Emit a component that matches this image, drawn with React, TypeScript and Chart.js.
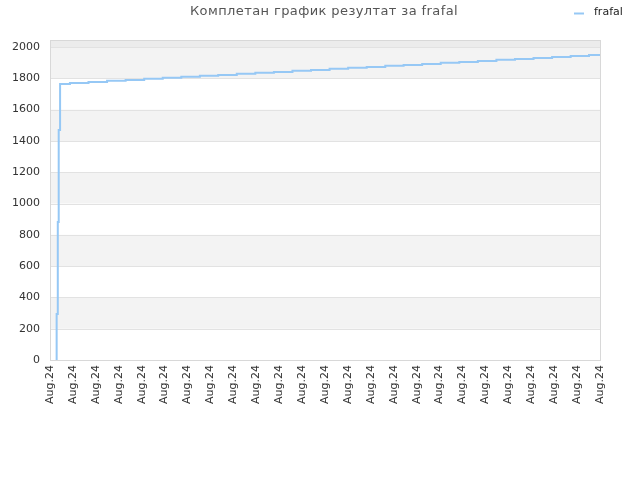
import React, { useRef, useEffect } from 'react'
import { Chart, registerables } from 'chart.js'

Chart.register(...registerables)

const chartTitle = 'Комплетан график резултат за frafal'
const seriesName = 'frafal'

// x position of each change, in label units (0 = first "Aug.24", 24 = last)
const pointX = [
	0.29, 0.29, 0.34, 0.38, 0.44,
	0.87, 1.68, 2.49, 3.3, 4.11, 4.92, 5.73, 6.54, 7.34, 8.15,
	8.96, 9.77, 10.58, 11.39, 12.2, 13.01, 13.82, 14.63, 15.43, 16.24,
	17.05, 17.86, 18.67, 19.48, 20.29, 21.1, 21.91, 22.72, 23.52, 24,
]
const pointY = [
	0, 294, 882, 1470, 1764,
	1771, 1777, 1784, 1790, 1797, 1803, 1810, 1816, 1822, 1829,
	1835, 1841, 1848, 1854, 1861, 1867, 1873, 1880, 1886, 1892,
	1899, 1905, 1911, 1918, 1924, 1930, 1937, 1943, 1949, 1949,
]

const xTickLabels = [
	'Aug.24', 'Aug.24', 'Aug.24', 'Aug.24', 'Aug.24',
	'Aug.24', 'Aug.24', 'Aug.24', 'Aug.24', 'Aug.24',
	'Aug.24', 'Aug.24', 'Aug.24', 'Aug.24', 'Aug.24',
	'Aug.24', 'Aug.24', 'Aug.24', 'Aug.24', 'Aug.24',
	'Aug.24', 'Aug.24', 'Aug.24', 'Aug.24', 'Aug.24',
]

const bandStarts = [200, 600, 1000, 1400, 1800]
const bandSize = 200
const yMax = 2045

const lineColor = 'rgb(150, 200, 245)'

// grey bands behind the plot, border round it, title and legend on top
const decorPlugin = {
	id: 'decor',
	beforeDatasetsDraw(chart: any) {
		const { ctx, chartArea: a, scales } = chart
		const y = scales.y
		ctx.save()
		ctx.fillStyle = '#f3f3f3'
		bandStarts.forEach(v => {
			const top = y.getPixelForValue(v + bandSize)
			const bottom = y.getPixelForValue(v)
			ctx.fillRect(a.left, top, a.right - a.left, bottom - top)
		})
		const t2000 = y.getPixelForValue(2000)
		ctx.fillStyle = '#ececec'
		ctx.fillRect(a.left, a.top, a.right - a.left, t2000 - a.top)
		ctx.strokeStyle = '#e2e2e2'
		ctx.lineWidth = 1
		y.ticks.forEach((t: any) => {
			const py = Math.round(y.getPixelForValue(t.value)) + 0.5
			ctx.beginPath()
			ctx.moveTo(a.left, py)
			ctx.lineTo(a.right, py)
			ctx.stroke()
		})
		ctx.strokeStyle = '#d8d8d8'
		ctx.strokeRect(Math.round(a.left) + 0.5, Math.round(a.top) + 0.5, Math.round(a.right - a.left), Math.round(a.bottom - a.top))
		ctx.restore()
	},
	afterDraw(chart: any) {
		const { ctx } = chart
		ctx.save()
		ctx.fillStyle = '#555'
		ctx.font = '13px "DejaVu Sans"'
		ctx.letterSpacing = '0.4px'
		ctx.textAlign = 'center'
		ctx.textBaseline = 'middle'
		ctx.fillText(chartTitle, 324, 12)
		ctx.letterSpacing = '0px'

		ctx.strokeStyle = lineColor
		ctx.lineWidth = 2
		ctx.beginPath()
		ctx.moveTo(574, 13.5)
		ctx.lineTo(584, 13.5)
		ctx.stroke()
		ctx.fillStyle = '#222'
		ctx.font = '11px "DejaVu Sans"'
		ctx.textAlign = 'left'
		ctx.fillText(seriesName, 594, 12)
		ctx.restore()
	},
}

const App: React.FC = () => {
	const chartRef = useRef<HTMLCanvasElement | null>(null)

	useEffect(() => {
		document.body.style.margin = '0'
		if (chartRef.current) {
			const ctx = chartRef.current.getContext('2d')
			if (ctx) {
				const newChart = new Chart(ctx, {
					type: 'line',
					data: {
						datasets: [
							{
								label: seriesName,
								data: pointX.map((x, i) => ({ x, y: pointY[i] })),
								borderColor: lineColor,
								backgroundColor: 'transparent',
								borderWidth: 2,
								pointRadius: 0,
								stepped: 'before',
							},
						],
					},
					options: {
						responsive: true,
						maintainAspectRatio: false,
						animation: false,
						layout: {
							padding: { top: 40, left: 8, right: 40, bottom: 60 },
						},
						plugins: {
							legend: { display: false },
							title: { display: false },
							tooltip: { enabled: false },
						},
						scales: {
							x: {
								type: 'linear',
								min: 0,
								max: 24,
								grid: { display: false, drawTicks: false },
								border: { display: false },
								afterFit: (s: any) => {
									s.height = 60
								},
								ticks: {
									stepSize: 1,
									autoSkip: false,
									maxRotation: 90,
									minRotation: 90,
									padding: 5,
									color: '#333',
									font: { family: 'DejaVu Sans', size: 11 },
									callback: (_v: any, i: number) => xTickLabels[i],
								},
							},
							y: {
								min: 0,
								max: yMax,
								grid: { display: false, drawTicks: false },
								border: { display: false },
								afterFit: (s: any) => {
									s.width = 42
								},
								ticks: {
									stepSize: 200,
									includeBounds: false,
									padding: 10,
									color: '#333',
									font: { family: 'DejaVu Sans', size: 11 },
									callback: (v: any) => String(v),
								},
							},
						},
					},
					plugins: [decorPlugin],
				})

				return () => {
					newChart.destroy()
				}
			}
		}
	}, [])

	return (
		<div style={{ position: 'relative', width: 640, height: 480 }}>
			<canvas ref={chartRef} />
		</div>
	)
}

export default App
